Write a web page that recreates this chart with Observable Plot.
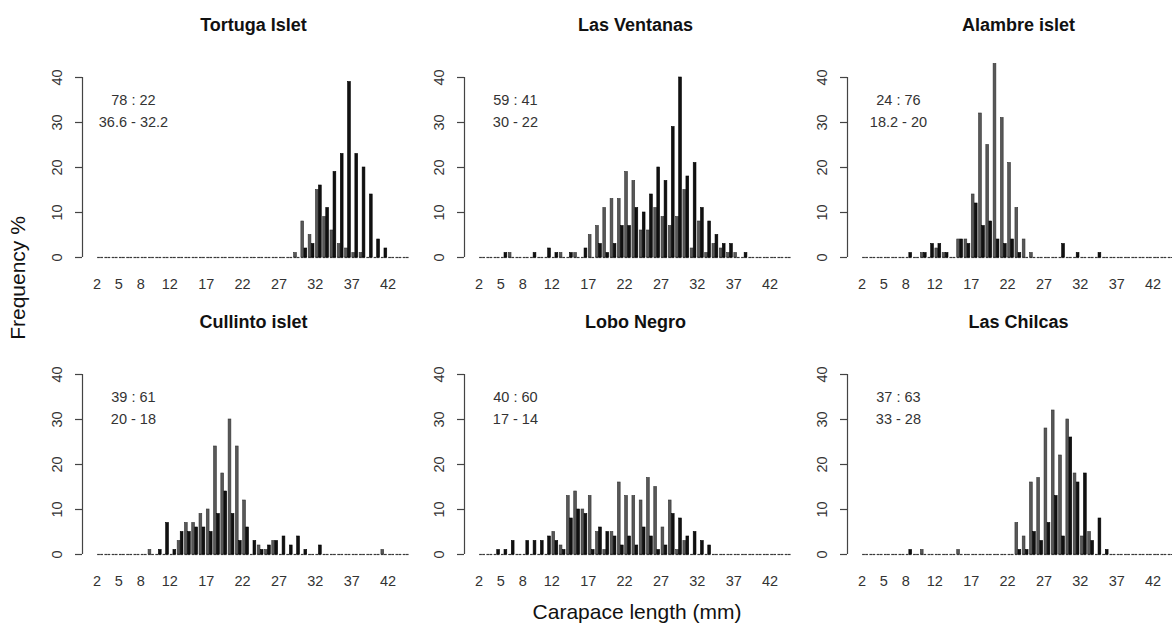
<!DOCTYPE html>
<html><head><meta charset="utf-8">
<script src="https://cdn.jsdelivr.net/npm/d3@7"></script>
<script src="https://cdn.jsdelivr.net/npm/@observablehq/plot@0.6"></script>
<style>
html,body{margin:0;padding:0;background:#fff;overflow:hidden;}
#chart{position:relative;width:1172px;height:628px;font-family:"Liberation Sans",Arial,sans-serif;}
.panel{position:absolute;}
.ylab{position:absolute;left:18px;top:278px;transform:translate(-50%,-50%) rotate(-90deg);font-size:21px;white-space:nowrap;color:#111;}
.xlab{position:absolute;left:637px;top:612px;transform:translate(-50%,-50%);font-size:21px;white-space:nowrap;color:#111;}
</style></head><body><div id="chart"></div>
<script>
// ---- data ----
const sizeClasses = [2,3,4,5,6,7,8,9,10,11,12,13,14,15,16,17,18,19,20,21,22,23,24,25,26,27,28,29,30,31,32,33,34,35,36,37,38,39,40,41,42,43,44];
const xTickValues = [2,5,8,12,17,22,27,32,37,42];
const yTickValues = [0,10,20,30,40];
const siteNames = ["Tortuga Islet","Las Ventanas","Alambre islet","Cullinto islet","Lobo Negro","Las Chilcas"];
const sexRatios = ["78 : 22","59 : 41","24 : 76","39 : 61","40 : 60","37 : 63"];
const meanSizes = ["36.6 - 32.2","30 - 22","18.2 - 20","20 - 18","17 - 14","33 - 28"];

const tortugaGrey  = [0,0,0,0,0,0,0,0,0,0, 0,0,0,0,0,0,0,0,0,0, 0,0,0,0,0,0,0,1,8,5, 15,9,6,3,2,1,1,0,0,0, 0,0,0];
const tortugaBlack = [0,0,0,0,0,0,0,0,0,0, 0,0,0,0,0,0,0,0,0,0, 0,0,0,0,0,0,0,0,2,3, 16,11,19,23,39,23,20,14,4,2, 0,0,0];
const ventanasGrey  = [0,0,0,0,1,0,0,0,0,0, 0,1,0,1,0,5,7,11,13,13, 19,17,6,6,11,9,7,9,15,2, 8,1,3,2,1,1,0,0,0,0, 0,0,0];
const ventanasBlack = [0,0,0,1,0,0,0,1,0,2, 1,0,1,0,2,0,3,1,3,7, 7,11,10,14,20,17,29,40,18,21, 11,8,5,3,3,0,1,0,0,0, 0,0,0];
const alambreGrey  = [0,0,0,0,0,0,0,0,1,0, 2,1,0,4,4,14,32,25,43,31, 21,11,4,1,0,0,0,0,0,0, 0,0,0,0,0,0,0,0,0,0, 0,0,0];
const alambreBlack = [0,0,0,0,0,0,1,0,1,3, 3,1,0,4,3,12,7,8,4,3, 4,1,0,0,0,0,0,3,0,1, 0,0,1,0,0,0,0,0,0,0, 0,0,0];
const cullintoGrey  = [0,0,0,0,0,0,0,1,0,0, 0,3,7,7,9,10,24,18,30,24, 12,0,2,1,3,0,0,0,0,0, 0,0,0,0,0,0,0,0,0,1, 0,0,0];
const cullintoBlack = [0,0,0,0,0,0,0,0,1,7, 1,5,5,6,6,5,9,14,9,3, 6,3,1,2,3,4,2,4,1,0, 2,0,0,0,0,0,0,0,0,0, 0,0,0];
const loboGrey  = [0,0,0,0,0,0,0,0,0,0, 5,2,13,14,10,13,5,1,5,16, 13,13,12,17,15,6,12,1,3,0, 0,0,0,0,0,0,0,0,0,0, 0,0,0];
const loboBlack = [0,0,1,1,3,0,3,3,3,4, 3,1,8,10,9,1,6,5,4,2, 4,2,6,4,1,2,9,8,4,5, 3,2,0,0,0,0,0,0,0,0, 0,0,0];
const chilcasGrey  = [0,0,0,0,0,0,0,0,1,0, 0,0,0,1,0,0,0,0,0,0, 0,7,4,16,17,28,32,22,30,18, 4,5,0,0,0,0,0,0,0,0, 0,0,0];
const chilcasBlack = [0,0,0,0,0,0,1,0,0,0, 0,0,0,0,0,0,0,0,0,0, 0,1,1,5,3,7,13,4,26,16, 18,3,8,1,0,0,0,0,0,0, 0,0,0];

// ---- layout ----
const greySeries = [tortugaGrey, ventanasGrey, alambreGrey, cullintoGrey, loboGrey, chilcasGrey];
const blackSeries = [tortugaBlack, ventanasBlack, alambreBlack, cullintoBlack, loboBlack, chilcasBlack];
const panelPos = [[43.7,6.7],[426,6.7],[808.5,6.7],[43.7,304.3],[425.7,304.3],[808.5,304.3]];
const font = '"Liberation Sans", Arial, sans-serif';
const chart = document.getElementById("chart");

siteNames.forEach((name, i) => {
  const bars = [];
  sizeClasses.forEach((c, j) => {
    bars.push({cls: c, series: "grey", value: greySeries[i][j], x1: c + 0.08, x2: c + 0.46});
    bars.push({cls: c, series: "black", value: blackSeries[i][j], x1: c + 0.5, x2: c + 0.88});
  });
  const notes = [{text: sexRatios[i], y: 35}, {text: meanSizes[i], y: 30}];
  const svg = Plot.plot({
    width: 380, height: 290,
    marginLeft: 38, marginRight: 0, marginTop: 70, marginBottom: 40,
    x: {domain: [0, 47], axis: null},
    y: {domain: [0, 40], axis: null},
    style: {background: "transparent", fontFamily: font, color: "#333", overflow: "visible"},
    marks: [
      Plot.ruleY(bars, {y: 0, x1: "x1", x2: "x2", stroke: "#3a3a3a", strokeWidth: 1.2}),
      Plot.rectY(bars.filter(d => d.value > 0), {
        x1: "x1", x2: "x2", y1: 0, y2: "value",
        fill: d => d.series === "grey" ? "#585858" : "#111",
        stroke: d => d.series === "grey" ? "#333" : "#000",
        strokeWidth: 0.6
      }),
      Plot.ruleX([0], {y1: 0, y2: 40, stroke: "#444", strokeWidth: 1.2}),
      Plot.axisY({ticks: yTickValues, tickSize: 7, tickRotate: -90, tickPadding: 14, fontSize: 14.5, stroke: "#444", strokeWidth: 1.2}),
      Plot.axisX({ticks: xTickValues, tickSize: 0, tickPadding: 21, fontSize: 14.5}),
      Plot.text([name], {frameAnchor: "top", dy: -59, fontWeight: "bold", fontSize: 18, fill: "#111"}),
      Plot.text(notes, {x: 7, y: "y", text: "text", fontSize: 14.5, fill: "#333"})
    ]
  });
  svg.classList.add("panel");
  svg.style.left = panelPos[i][0] + "px";
  svg.style.top = panelPos[i][1] + "px";
  svg.style.maxWidth = "none";
  chart.appendChild(svg);
});

const yl = document.createElement("div"); yl.className = "ylab"; yl.textContent = "Frequency %"; chart.appendChild(yl);
const xl = document.createElement("div"); xl.className = "xlab"; xl.textContent = "Carapace length (mm)"; chart.appendChild(xl);
</script></body></html>
